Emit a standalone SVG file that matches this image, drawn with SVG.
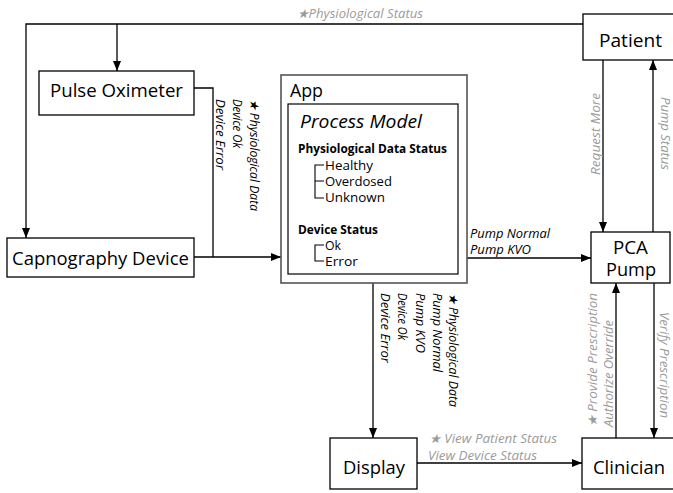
<svg xmlns="http://www.w3.org/2000/svg" width="673" height="493" viewBox="0 0 673 493">
  <defs>
    <marker id="arrow" viewBox="0 0 10 8" refX="10" refY="4" markerWidth="10" markerHeight="8" markerUnits="userSpaceOnUse" orient="auto">
      <path d="M0,0 L10,4 L0,8 Z" fill="#000"/>
    </marker>
    <style>
      .box { fill: #fff; stroke: #000; stroke-width: 1.3; }
      .app { fill: #fff; stroke: #555; stroke-width: 1.6; }
      .inner { fill: #fff; stroke: #000; stroke-width: 1.2; }
      .wire { fill: none; stroke: #000; stroke-width: 1.3; }
      .tree { fill: none; stroke: #000; stroke-width: 1.1; }
      .big { font-family: "Open Sans", "Liberation Sans", sans-serif; font-size: 19px; fill: #000; }
      .pca { font-family: "Open Sans", "Liberation Sans", sans-serif; font-size: 18px; fill: #000; }
      .pm { font-family: "Open Sans", "Liberation Sans", sans-serif; font-size: 19px; font-style: italic; fill: #000; }
      .head { font-family: "Open Sans", "Liberation Sans", sans-serif; font-size: 12.5px; font-weight: bold; fill: #000; }
      .item { font-family: "Open Sans", "Liberation Sans", sans-serif; font-size: 12px; fill: #000; }
      .lbl { font-family: "Open Sans", "Liberation Sans", sans-serif; font-size: 12.5px; font-style: italic; fill: #000; }
      .gray { font-family: "Open Sans", "Liberation Sans", sans-serif; font-size: 12.5px; font-style: italic; fill: #9b9b9b; }
    </style>
  </defs>

  <!-- connectors -->
  <g id="connectors">
    <!-- Patient to sensors -->
    <path class="wire" d="M583,24 H26 V238" marker-end="url(#arrow)"/>
    <path class="wire" d="M117,24 V71" marker-end="url(#arrow)"/>
    <!-- sensors to App -->
    <path class="wire" d="M194,88 H213 V257"/>
    <path class="wire" d="M194,257 H281" marker-end="url(#arrow)"/>
    <!-- App to PCA Pump -->
    <path class="wire" d="M467,258 H591" marker-end="url(#arrow)"/>
    <!-- App to Display -->
    <path class="wire" d="M373,283 V438" marker-end="url(#arrow)"/>
    <!-- Display to Clinician -->
    <path class="wire" d="M417,463 H582" marker-end="url(#arrow)"/>
    <!-- Patient / PCA Pump -->
    <path class="wire" d="M603,60 V232" marker-end="url(#arrow)"/>
    <path class="wire" d="M653,232 V60" marker-end="url(#arrow)"/>
    <!-- Clinician / PCA Pump -->
    <path class="wire" d="M616,438 V283" marker-end="url(#arrow)"/>
    <path class="wire" d="M654,283 V438" marker-end="url(#arrow)"/>

    <!-- connector labels -->
    <text class="gray" x="297" y="18" textLength="126" lengthAdjust="spacingAndGlyphs">★Physiological Status</text>

    <text class="lbl" transform="translate(250,99) rotate(90)" textLength="112" lengthAdjust="spacingAndGlyphs">★ Physiological Data</text>
    <text class="lbl" transform="translate(233,99) rotate(90)" textLength="49" lengthAdjust="spacingAndGlyphs">Device Ok</text>
    <text class="lbl" transform="translate(216,99) rotate(90)" textLength="71" lengthAdjust="spacingAndGlyphs">Device Error</text>

    <text class="lbl" x="470" y="238" textLength="80" lengthAdjust="spacingAndGlyphs">Pump Normal</text>
    <text class="lbl" x="470" y="254" textLength="61" lengthAdjust="spacingAndGlyphs">Pump KVO</text>

    <text class="lbl" transform="translate(449,293) rotate(90)" textLength="114" lengthAdjust="spacingAndGlyphs">★ Physiological Data</text>
    <text class="lbl" transform="translate(433,293) rotate(90)" textLength="79" lengthAdjust="spacingAndGlyphs">Pump Normal</text>
    <text class="lbl" transform="translate(416,293) rotate(90)" textLength="60" lengthAdjust="spacingAndGlyphs">Pump KVO</text>
    <text class="lbl" transform="translate(398,293) rotate(90)" textLength="47" lengthAdjust="spacingAndGlyphs">Device Ok</text>
    <text class="lbl" transform="translate(381,293) rotate(90)" textLength="70" lengthAdjust="spacingAndGlyphs">Device Error</text>

    <text class="gray" x="429" y="443" textLength="128" lengthAdjust="spacingAndGlyphs">★ View Patient Status</text>
    <text class="gray" x="428" y="460" textLength="109" lengthAdjust="spacingAndGlyphs">View Device Status</text>

    <text class="gray" transform="translate(600,175) rotate(-90)" textLength="82" lengthAdjust="spacingAndGlyphs">Request More</text>
    <text class="gray" transform="translate(661,97) rotate(90)" textLength="73" lengthAdjust="spacingAndGlyphs">Pump Status</text>

    <text class="gray" transform="translate(597,427) rotate(-90)" textLength="134" lengthAdjust="spacingAndGlyphs">★ Provide Prescription</text>
    <text class="gray" transform="translate(613,427) rotate(-90)" textLength="107" lengthAdjust="spacingAndGlyphs">Authorize Override</text>
    <text class="gray" transform="translate(660,312) rotate(90)" textLength="106" lengthAdjust="spacingAndGlyphs">Verify Prescription</text>
  </g>

  <!-- nodes -->
  <g id="patient">
    <rect class="box" x="583" y="14" width="92" height="46"/>
    <text class="big" x="599" y="47" textLength="63" lengthAdjust="spacingAndGlyphs">Patient</text>
  </g>

  <g id="pulse-oximeter">
    <rect class="box" x="39" y="71" width="155" height="44"/>
    <text class="big" x="50" y="97" textLength="133" lengthAdjust="spacingAndGlyphs">Pulse Oximeter</text>
  </g>

  <g id="capnography-device">
    <rect class="box" x="7" y="238" width="187" height="39"/>
    <text class="big" x="12" y="265" textLength="177" lengthAdjust="spacingAndGlyphs">Capnography Device</text>
  </g>

  <g id="app">
    <rect class="app" x="281" y="75" width="186" height="208"/>
    <text class="big" x="290" y="97" textLength="33" lengthAdjust="spacingAndGlyphs">App</text>
    <g id="process-model">
      <rect class="inner" x="288" y="104" width="170" height="170"/>
      <text class="pm" x="300" y="128" textLength="122" lengthAdjust="spacingAndGlyphs">Process Model</text>
      <text class="head" x="298" y="153" textLength="149" lengthAdjust="spacingAndGlyphs">Physiological Data Status</text>
      <path class="tree" d="M324,165 H315 V198 H324 M315,181 H324"/>
      <text class="item" x="325" y="170" textLength="48" lengthAdjust="spacingAndGlyphs">Healthy</text>
      <text class="item" x="325" y="186" textLength="67" lengthAdjust="spacingAndGlyphs">Overdosed</text>
      <text class="item" x="325" y="202" textLength="60" lengthAdjust="spacingAndGlyphs">Unknown</text>
      <text class="head" x="298" y="234" textLength="80" lengthAdjust="spacingAndGlyphs">Device Status</text>
      <path class="tree" d="M324,245 H315 V261 H324"/>
      <text class="item" x="325" y="250" textLength="16" lengthAdjust="spacingAndGlyphs">Ok</text>
      <text class="item" x="325" y="266" textLength="33" lengthAdjust="spacingAndGlyphs">Error</text>
    </g>
  </g>

  <g id="pca-pump">
    <rect class="box" x="591" y="232" width="79" height="51"/>
    <text class="pca" x="613" y="254" textLength="35" lengthAdjust="spacingAndGlyphs">PCA</text>
    <text class="pca" x="606" y="276" textLength="50" lengthAdjust="spacingAndGlyphs">Pump</text>
  </g>

  <g id="display">
    <rect class="box" x="330" y="438" width="87" height="51"/>
    <text class="big" x="343" y="474" textLength="62" lengthAdjust="spacingAndGlyphs">Display</text>
  </g>

  <g id="clinician">
    <rect class="box" x="582" y="438" width="93" height="51"/>
    <text class="big" x="593" y="474" textLength="72" lengthAdjust="spacingAndGlyphs">Clinician</text>
  </g>
</svg>
